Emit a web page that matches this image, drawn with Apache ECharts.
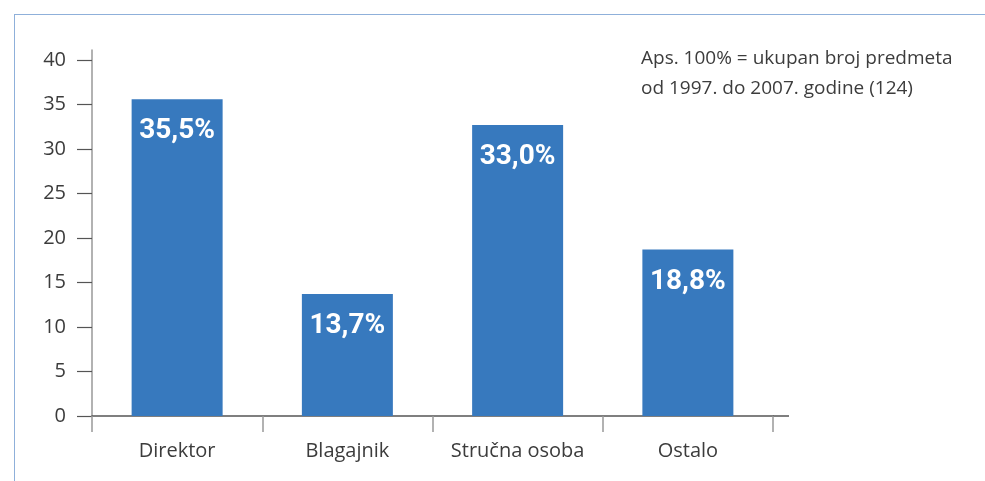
<!DOCTYPE html>
<html>
<head>
<meta charset="utf-8">
<script src="https://cdn.jsdelivr.net/npm/echarts@6/dist/echarts.min.js"></script>
<style>
  html, body { margin: 0; padding: 0; background: #ffffff; }
  #wrap { position: relative; width: 985px; height: 481px; }
  #frame { position: absolute; left: 14px; top: 14px; right: 0; bottom: 0;
           border-top: 1px solid #8fb0da; border-left: 1px solid #8fb0da; }
  #chart { position: absolute; left: 0; top: 0; width: 985px; height: 481px; }
</style>
</head>
<body>
<div id="wrap">
  <div id="frame"></div>
  <div id="chart"></div>
</div>
<script>
const categories = ['Direktor', 'Blagajnik', 'Stručna osoba', 'Ostalo'];
const values = [35.6, 13.7, 32.7, 18.7];
const valueLabels = ['35,5%', '13,7%', '33,0%', '18,8%'];
const yTicks = [0, 5, 10, 15, 20, 25, 30, 35, 40];
const noteLines = ['Aps. 100% = ukupan broj predmeta', 'od 1997. do 2007. godine (124)'];

const chart = echarts.init(document.getElementById('chart'), null, { renderer: 'canvas' });
const yMax = 41.12;
const textFont = "'Open Sans', 'Noto Sans', sans-serif";

chart.setOption({
  backgroundColor: 'transparent',
  animation: false,
  title: {
    text: noteLines.join('\n'),
    left: 641,
    top: 44,
    padding: 0,
    textStyle: { fontFamily: textFont, fontSize: 19, fontWeight: 'normal', color: '#3c3c3c', lineHeight: 30 }
  },
  grid: { left: 92, right: 212, top: 50, bottom: 65, containLabel: false },
  xAxis: {
    type: 'category',
    data: categories,
    boundaryGap: true,
    axisLine: { show: true, lineStyle: { color: '#555555', width: 1.5 } },
    axisTick: { show: true, interval: 0, length: 16, alignWithLabel: false, lineStyle: { color: '#999999', width: 1.5 } },
    axisLabel: { interval: 0, hideOverlap: false, margin: 25, fontFamily: textFont, fontSize: 20, color: '#3c3c3c' },
    splitLine: { show: false }
  },
  yAxis: [{
    type: 'value',
    min: 0,
    max: yMax,
    axisLine: { show: true, lineStyle: { color: '#999999', width: 1.5 } },
    axisTick: { show: true, length: 15, customValues: yTicks, lineStyle: { color: '#555555', width: 1.2 } },
    axisLabel: { show: true, customValues: yTicks, margin: 26, fontFamily: textFont, fontSize: 20, color: '#3c3c3c' },
    splitLine: { show: false }
  }, {
    type: 'value',
    position: 'right',
    min: 0,
    max: yMax,
    axisLine: { show: false },
    axisTick: { show: true, length: 16, customValues: [0], lineStyle: { color: '#555555', width: 1.5 } },
    axisLabel: { show: false },
    splitLine: { show: false }
  }],
  series: [{
    type: 'bar',
    yAxisIndex: 0,
    data: values,
    barWidth: 91,
    itemStyle: { color: '#3779be' },
    label: {
      show: true,
      position: 'insideTop',
      distance: 18,
      formatter: p => valueLabels[p.dataIndex],
      fontFamily: "Roboto, sans-serif",
      fontWeight: 'bold',
      fontSize: 28,
      color: '#ffffff'
    }
  }]
});
</script>
</body>
</html>
